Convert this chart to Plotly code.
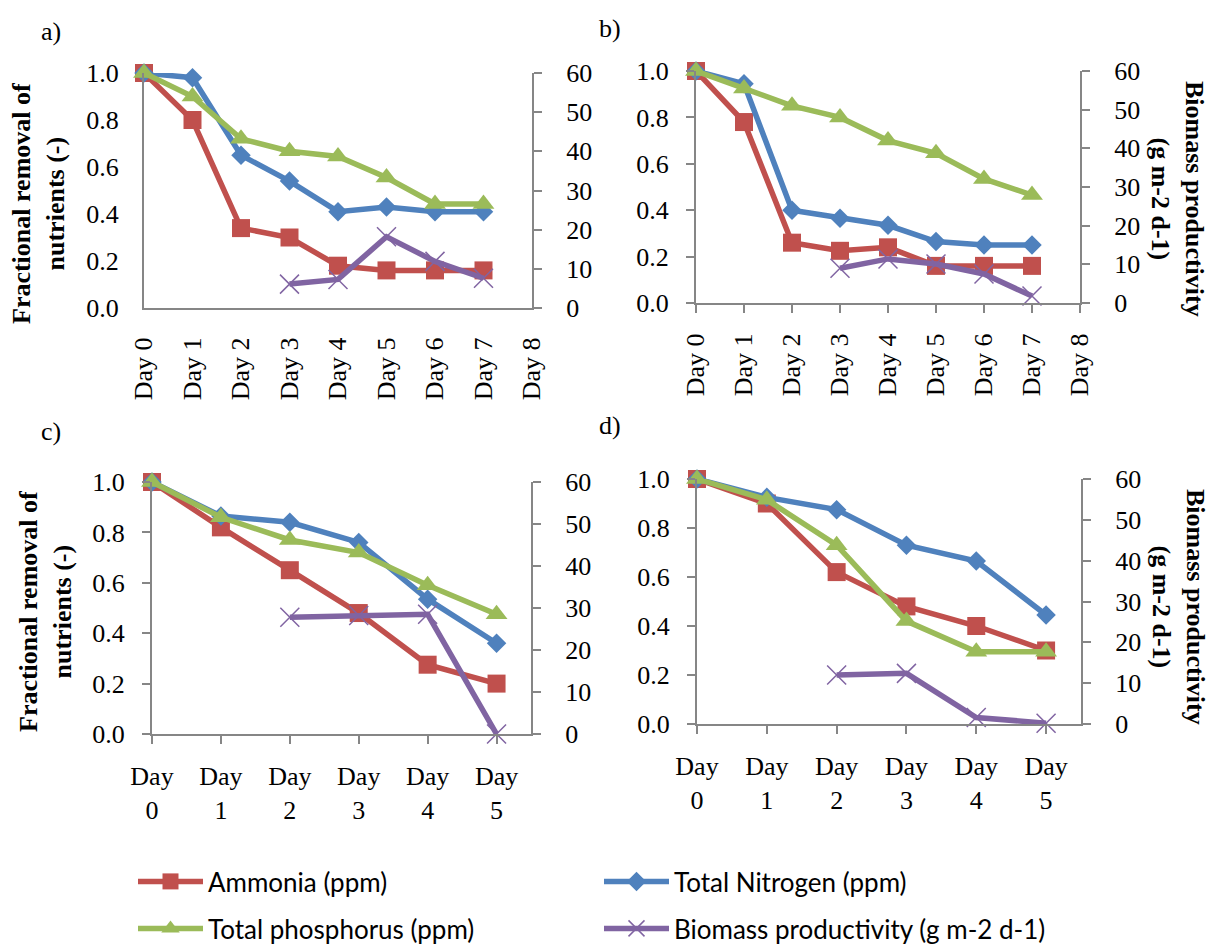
import plotly.graph_objects as go

# ---------------- data ----------------
days_ab = [0, 1, 2, 3, 4, 5, 6, 7]
days_cd = [0, 1, 2, 3, 4, 5]
tick_vals_ab = [0, 1, 2, 3, 4, 5, 6, 7, 8]
tick_text_ab = ["Day 0", "Day 1", "Day 2", "Day 3", "Day 4", "Day 5", "Day 6", "Day 7", "Day 8"]
tick_vals_cd = [0, 1, 2, 3, 4, 5]
tick_text_cd = ["Day<br>0", "Day<br>1", "Day<br>2", "Day<br>3", "Day<br>4", "Day<br>5"]

a_ammonia = [1.0, 0.80, 0.34, 0.30, 0.18, 0.16, 0.16, 0.16]
a_tn = [1.0, 0.98, 0.65, 0.54, 0.41, 0.43, 0.41, 0.41]
a_tp = [1.0, 0.90, 0.72, 0.667, 0.645, 0.555, 0.443, 0.443]
a_bio_days = [3, 4, 5, 6, 7]
a_bio = [6.1, 7.3, 18.2, 11.9, 7.6]

b_ammonia = [1.0, 0.78, 0.26, 0.225, 0.24, 0.16, 0.16, 0.16]
b_tn = [1.0, 0.945, 0.40, 0.365, 0.335, 0.265, 0.25, 0.25]
b_tp = [1.0, 0.925, 0.85, 0.80, 0.70, 0.645, 0.535, 0.465]
b_bio_days = [3, 4, 5, 6, 7]
b_bio = [9.0, 11.4, 10.1, 7.5, 1.8]

c_ammonia = [1.0, 0.82, 0.65, 0.48, 0.275, 0.20]
c_tn = [1.0, 0.865, 0.84, 0.76, 0.535, 0.36]
c_tp = [1.0, 0.86, 0.77, 0.72, 0.59, 0.475]
c_bio_days = [2, 3, 4, 5]
c_bio = [27.8, 28.2, 28.5, 0.0]

d_ammonia = [1.0, 0.90, 0.62, 0.48, 0.40, 0.30]
d_tn = [1.0, 0.925, 0.875, 0.73, 0.665, 0.445]
d_tp = [1.0, 0.915, 0.73, 0.42, 0.295, 0.295]
d_bio_days = [2, 3, 4, 5]
d_bio = [12.0, 12.4, 1.6, 0.2]

series_names = ["Ammonia (ppm)", "Total Nitrogen (ppm)", "Total phosphorus (ppm)",
                "Biomass productivity (g m-2 d-1)"]
panel_labels = ["a)", "b)", "c)", "d)"]

# ---------------- style ----------------
RED = "#C0504D"
BLUE = "#4F81BD"
GREEN = "#9BBB59"
PURPLE = "#8064A2"
AXIS = "#868686"
SERIF = "Liberation Serif"
TICKFONT = dict(family=SERIF, size=26, color="black")

styles = [
    dict(color=RED, symbol="square", size=18),
    dict(color=BLUE, symbol="diamond", size=15),
    dict(color=GREEN, symbol="triangle-up", size=19),
    dict(color=PURPLE, symbol="x-thin", size=19),
]

panels = [
    dict(x=days_ab, ser=[a_ammonia, a_tn, a_tp], bx=a_bio_days, bio=a_bio),
    dict(x=days_ab, ser=[b_ammonia, b_tn, b_tp], bx=b_bio_days, bio=b_bio),
    dict(x=days_cd, ser=[c_ammonia, c_tn, c_tp], bx=c_bio_days, bio=c_bio),
    dict(x=days_cd, ser=[d_ammonia, d_tn, d_tp], bx=d_bio_days, bio=d_bio),
]

W, H = 1210, 945
# plot areas in pixels: (left, right, top, bottom)
boxes = [(144, 532, 73, 308), (696, 1080, 71, 303), (152, 531, 482, 734), (697, 1081, 479, 724)]

fig = go.Figure()

for i, p in enumerate(panels):
    xa = f"x{i+1}" if i else "x"
    ya = f"y{i+1}" if i else "y"
    yb = f"y{i+5}"
    for j in range(3):
        st = styles[j]
        fig.add_trace(go.Scatter(
            x=p["x"], y=p["ser"][j], mode="lines+markers", name=series_names[j],
            xaxis=xa, yaxis=ya, cliponaxis=False,
            line=dict(color=st["color"], width=5.5),
            marker=dict(color=st["color"], symbol=st["symbol"], size=st["size"]),
            showlegend=(i == 0), legend="legend" if j < 2 else "legend2",
        ))
    st = styles[3]
    fig.add_trace(go.Scatter(
        x=p["bx"], y=p["bio"], mode="lines+markers", name=series_names[3],
        xaxis=xa, yaxis=yb, cliponaxis=False,
        line=dict(color=st["color"], width=5.5),
        marker=dict(color=st["color"], symbol=st["symbol"], size=st["size"],
                    line=dict(color=st["color"], width=1.5)),
        showlegend=(i == 0), legend="legend2",
    ))

layout = dict(
    width=W, height=H, autosize=False,
    margin=dict(l=0, r=0, t=0, b=0, autoexpand=False),
    paper_bgcolor="white", plot_bgcolor="white",
    font=dict(family=SERIF, size=26, color="black"),
)

for i, (l, r, t, b) in enumerate(boxes):
    xd = [l / W, r / W]
    yd = [1 - b / H, 1 - t / H]
    xk = "xaxis" + (str(i + 1) if i else "")
    yk = "yaxis" + (str(i + 1) if i else "")
    y2k = "yaxis" + str(i + 5)
    yanchor = f"y{i+1}" if i else "y"
    xanchor = f"x{i+1}" if i else "x"
    ab = i < 2
    no_ticks = (i == 0)
    layout[xk] = dict(
        domain=xd, anchor=yanchor,
        range=[0, 8] if ab else [0, 5.5],
        tickvals=tick_vals_ab if ab else tick_vals_cd,
        ticktext=tick_text_ab if ab else tick_text_cd,
        tickangle=-90 if ab else 0, tickfont=TICKFONT,
        showline=True, linecolor=AXIS, linewidth=2,
        ticks="" if no_ticks else "outside", ticklen=8, tickcolor=AXIS, tickwidth=2,
        showgrid=False, zeroline=False, automargin=False,
        ticklabelstandoff=17 if no_ticks else 10,
    )
    layout[yk] = dict(
        domain=yd, anchor=xanchor,
        range=[0, 1], dtick=0.2, tick0=0, tickformat=".1f", tickfont=TICKFONT,
        showline=True, linecolor=AXIS, linewidth=2,
        ticks="" if no_ticks else "outside", ticklen=8, tickcolor=AXIS, tickwidth=2,
        showgrid=False, zeroline=False, automargin=False,
        ticklabelstandoff=18 if no_ticks else 12,
    )
    layout[y2k] = dict(
        overlaying=yanchor, anchor=xanchor, side="right",
        range=[0, 60], dtick=10, tick0=0, tickfont=TICKFONT,
        showline=True, linecolor=AXIS, linewidth=2,
        ticks="outside", ticklen=8, tickcolor=AXIS, tickwidth=2,
        showgrid=False, zeroline=False, automargin=False, ticklabelstandoff=19,
    )

LEGFONT = dict(family="Lato", size=26, color="black")
layout["legend"] = dict(orientation="h", x=133 / W, y=40 / H, xanchor="left", yanchor="bottom",
                        entrywidth=386, entrywidthmode="pixels", font=LEGFONT,
                        bgcolor="rgba(0,0,0,0)", itemwidth=65)
layout["legend2"] = dict(orientation="h", x=133 / W, y=-7 / H, xanchor="left", yanchor="bottom",
                         entrywidth=386, entrywidthmode="pixels", font=LEGFONT,
                         bgcolor="rgba(0,0,0,0)", itemwidth=65)

annotations = []
label_pos = [(51, 32), (610, 29), (51, 431), (610, 425)]
for lab, (x, y) in zip(panel_labels, label_pos):
    annotations.append(dict(text=lab, x=x / W, y=1 - y / H, xref="paper", yref="paper",
                            showarrow=False, xanchor="center", yanchor="middle",
                            font=dict(family=SERIF, size=26, color="black")))
for (x, y) in [(38, 204), (45, 612)]:
    annotations.append(dict(text="<b>Fractional removal of<br>nutrients (-)</b>", x=x / W, y=1 - y / H,
                            xref="paper", yref="paper", showarrow=False, textangle=-90,
                            xanchor="center", yanchor="middle",
                            font=dict(family=SERIF, size=26, color="black")))
for (x, y) in [(1178, 199), (1179, 607)]:
    annotations.append(dict(text="<b>Biomass productivity<br>(g m-2 d-1)</b>", x=x / W, y=1 - y / H,
                            xref="paper", yref="paper", showarrow=False, textangle=90,
                            xanchor="center", yanchor="middle",
                            font=dict(family=SERIF, size=26, color="black")))
layout["annotations"] = annotations

fig.update_layout(**layout)
fig.write_html("out.html")
